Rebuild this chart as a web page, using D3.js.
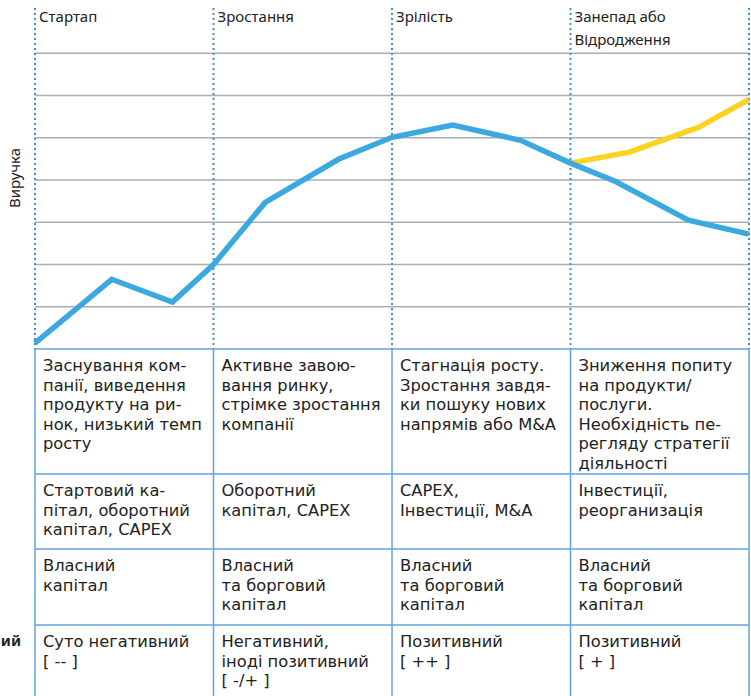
<!DOCTYPE html>
<html lang="uk">
<head>
    <meta charset="UTF-8">
    <script src="https://cdnjs.cloudflare.com/ajax/libs/d3/7.8.5/d3.min.js"></script>
    <title>Життєвий цикл компанії</title>
    <style>
        body { margin: 0; background: #fff; }
        text { font-family: "Noto Sans", "Open Sans", sans-serif; fill: #222; }
        .cell { font-family: "DejaVu Sans", "Noto Sans", sans-serif; }
    </style>
</head>
<body>
<script>
    const width = 751;
    const height = 696;

    // стадії (заголовки колонок)
    var stages = [['Стартап'], ['Зростання'], ['Зрілість'], ['Занепад або', 'Відродження']];

    // крива виручки: позиція по осі стадій (0..4) та значення
    var revenueX = [0, 0.43, 0.77, 1.0, 1.29, 1.70, 2.0, 2.34, 2.72, 3.0, 3.25, 3.66, 4.0];
    var revenueY = [0.14, 1.65, 1.11, 2.0, 3.47, 4.49, 5.01, 5.30, 4.94, 4.40, 3.97, 3.05, 2.72];
    // сценарій відродження
    var revivalX = [3.0, 3.33, 3.72, 4.0];
    var revivalY = [4.40, 4.66, 5.25, 5.91];

    var gridValues = [1, 2, 3, 4, 5, 6, 7];

    // рядки таблиці під графіком
    var descRow = [
        ['Заснування ком-', 'панії, виведення', 'продукту на ри-', 'нок, низький темп', 'росту'],
        ['Активне завою-', 'вання ринку,', 'стрімке зростання', 'компанії'],
        ['Стагнація росту.', 'Зростання завдя-', 'ки пошуку нових', 'напрямів або M&A'],
        ['Зниження попиту', 'на продукти/', 'послуги.', 'Необхідність пе-', 'регляду стратегії', 'діяльності']
    ];
    var needsRow = [
        ['Стартовий ка-', 'пітал, оборотний', 'капітал, CAPEX'],
        ['Оборотний', 'капітал, CAPEX'],
        ['CAPEX,', 'Інвестиції, M&A'],
        ['Інвестиції,', 'реорганизація']
    ];
    var sourcesRow = [
        ['Власний', 'капітал'],
        ['Власний', 'та борговий', 'капітал'],
        ['Власний', 'та борговий', 'капітал'],
        ['Власний', 'та борговий', 'капітал']
    ];
    var cashRow = [
        ['Суто негативний', '[ -- ]'],
        ['Негативний,', 'іноді позитивний', '[ -/+ ]'],
        ['Позитивний', '[ ++ ]'],
        ['Позитивний', '[ + ]']
    ];
    var tableRows = [descRow, needsRow, sourcesRow, cashRow];
    var rowEdges = [349, 474, 549, 625, 700];

    var x = d3.scaleLinear().domain([0, 4]).range([35, 749]);
    var y = d3.scaleLinear().domain([0, 8]).range([349, 11]);

    var svg = d3.select('body').append('svg')
                .attr('width', width)
                .attr('height', height);

    // горизонтальна сітка
    svg.append('g').selectAll('line')
        .data(gridValues).enter()
        .append('line')
        .attr('x1', x(0)).attr('x2', x(4))
        .attr('y1', d => y(d)).attr('y2', d => y(d))
        .attr('stroke', '#a7aeb5').attr('stroke-width', 1.3);

    // пунктирні межі стадій
    svg.append('g').selectAll('line')
        .data([0, 1, 2, 3, 4]).enter()
        .append('line')
        .attr('x1', d => x(d)).attr('x2', d => x(d))
        .attr('y1', 8).attr('y2', y(0))
        .attr('stroke', '#3f8fd6').attr('stroke-width', 2)
        .attr('stroke-dasharray', '2,3');

    // назви стадій
    var lbl = svg.append('g').selectAll('text')
        .data(stages).enter()
        .append('text')
        .attr('x', (d, i) => x(i) + 4)
        .attr('y', 22)
        .style('font-size', '15px');
    lbl.selectAll('tspan')
        .data(d => d).enter()
        .append('tspan')
        .attr('x', function () { return d3.select(this.parentNode).attr('x'); })
        .attr('dy', (d, i) => i === 0 ? 0 : 23)
        .text(d => d);

    // підпис осі
    svg.append('text')
        .attr('transform', 'translate(20,178) rotate(-90)')
        .attr('text-anchor', 'middle')
        .style('font-size', '15px')
        .text('Виручка');

    var line = d3.line().x(d => x(d[0])).y(d => y(d[1]));

    svg.append('path')
        .datum(d3.zip(revivalX, revivalY))
        .attr('d', line)
        .attr('fill', 'none')
        .attr('stroke', '#fdd223')
        .attr('stroke-width', 5.5)
        .attr('stroke-linejoin', 'round');

    svg.append('path')
        .datum(d3.zip(revenueX, revenueY))
        .attr('d', line)
        .attr('fill', 'none')
        .attr('stroke', '#3ba9e0')
        .attr('stroke-width', 5.5);

    // таблиця
    var tbl = svg.append('g');
    tbl.selectAll('line.h')
        .data(rowEdges.slice(0, 4)).enter()
        .append('line')
        .attr('x1', x(0)).attr('x2', x(4))
        .attr('y1', d => d).attr('y2', d => d)
        .attr('stroke', '#64a3de').attr('stroke-width', 1.5);
    tbl.selectAll('line.v')
        .data([0, 1, 2, 3, 4]).enter()
        .append('line')
        .attr('x1', d => x(d)).attr('x2', d => x(d))
        .attr('y1', rowEdges[0]).attr('y2', height)
        .attr('stroke', '#64a3de').attr('stroke-width', 1.5);

    tableRows.forEach(function (row, r) {
        var cells = tbl.append('g').selectAll('text')
            .data(row).enter()
            .append('text')
            .attr('class', 'cell')
            .attr('x', (d, i) => x(i) + 8)
            .attr('y', rowEdges[r] + 22)
            .style('font-size', '16.3px');
        cells.selectAll('tspan')
            .data(d => d).enter()
            .append('tspan')
            .attr('x', function () { return d3.select(this.parentNode).attr('x'); })
            .attr('dy', (d, i) => i === 0 ? 0 : 19.5)
            .text(d => d);
    });

    // обрізаний підпис зліва
    svg.append('text')
        .attr('x', 21).attr('y', 646)
        .attr('text-anchor', 'end')
        .style('font-size', '15px')
        .style('font-weight', 'bold')
        .text('ий');
</script>
</body>
</html>
